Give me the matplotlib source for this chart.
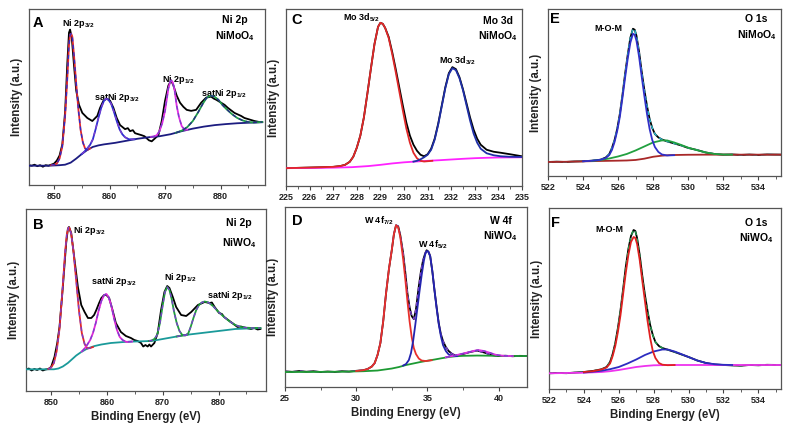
import matplotlib
matplotlib.use("Agg")
import matplotlib.pyplot as plt
from matplotlib.ticker import MultipleLocator

# Values (x = binding energy in eV, y = intensity in a.u.)

# ---- Panel A : Ni 2p, NiMoO4 ----
a_data = [(845.5, 19.5), (846.0, 19), (846.5, 20), (847.0, 18.5), (847.5, 19.5), (848.0, 18),
          (848.5, 19.5), (849.0, 19), (849.5, 20), (850.0, 21), (850.5, 24), (851.0, 29),
          (851.5, 40), (852.0, 72), (852.4, 120), (852.7, 150), (852.9, 153), (853.2, 145),
          (853.6, 118), (854.0, 93), (854.5, 79), (855.1, 71), (856.0, 66), (856.9, 63),
          (857.8, 68), (858.3, 76), (858.9, 83), (859.5, 85), (860.1, 83), (860.7, 76),
          (861.3, 66), (861.9, 59), (862.8, 55), (863.3, 56), (863.7, 53), (864.2, 54),
          (864.6, 51), (865.2, 50), (865.8, 49), (866.3, 48), (866.7, 46), (867.1, 44),
          (867.6, 43), (868.2, 46), (868.8, 49), (869.4, 63), (870.0, 83), (870.6, 98),
          (871.1, 103), (871.5, 98), (872.1, 88), (872.7, 81), (873.3, 77), (873.9, 74),
          (874.7, 73), (875.6, 74), (876.5, 81), (877.4, 86), (878.3, 87), (878.8, 85),
          (879.2, 84), (880.1, 81), (880.7, 79), (881.3, 76), (882.5, 71), (883.7, 68),
          (884.3, 66), (884.9, 65), (885.5, 64), (886.1, 63), (887.0, 62), (887.5, 62)]
a_bg = [(845.5, 19), (849, 19), (851, 19.5), (852, 20), (853, 22), (854, 26), (855, 30.5),
        (856, 34.5), (857, 37.5), (858, 39), (859, 40), (861, 41.5), (863, 43.5), (865, 45.5),
        (867, 47), (869, 48), (871, 50), (873, 53), (875, 55.5), (877, 57.5), (879, 59),
        (881, 60), (883, 60.8), (885, 61.3), (887.5, 61.8)]
a_p32 = [(849.5, 19.5), (850, 20), (850.5, 21), (851, 26), (851.5, 38), (852, 68), (852.4, 105),
         (852.7, 138), (852.9, 148), (853.1, 149), (853.3, 146), (853.6, 128), (854, 100),
         (854.4, 74), (854.8, 54), (855.2, 42), (855.6, 36), (856, 34.5), (856.5, 36)]
a_s32 = [(855, 30.5), (855.5, 33), (856, 36), (856.5, 39.5), (857, 45), (857.5, 55), (858, 66),
         (858.5, 76), (859, 83), (859.4, 85), (859.8, 84), (860.3, 80), (860.8, 72), (861.3, 63),
         (861.8, 55), (862.3, 50), (862.8, 47), (863.5, 45), (864.5, 45)]
a_p12 = [(867.5, 47.5), (868, 47.8), (868.5, 49), (869, 53), (869.5, 61), (870, 73), (870.3, 84),
         (870.6, 95), (870.9, 101), (871.1, 103), (871.4, 101), (871.7, 94), (872.1, 78),
         (872.5, 67), (873, 58), (873.5, 54.5), (874, 54.5)]
a_s12 = [(872, 51.5), (873, 53.5), (874, 57), (875, 63), (876, 72), (876.8, 80), (877.5, 86),
         (878.2, 88), (878.9, 87), (879.6, 84), (880.3, 79), (881, 75), (882, 70), (883, 66),
         (884, 63.5), (885, 62), (886, 61.5), (887.5, 62)]

# ---- Panel B : Ni 2p, NiWO4 ----
b_data = [(845.5, 21.5), (846, 22.5), (846.5, 20.5), (847, 22), (847.5, 21), (848, 22.5),
          (848.5, 20.5), (849, 21.5), (849.5, 22), (850, 24), (850.6, 34), (851.1, 48),
          (851.5, 64), (852.1, 104), (852.7, 148), (853.0, 162), (853.2, 164), (853.6, 158),
          (854.2, 131), (854.8, 104), (855.4, 86), (856, 79), (856.6, 73), (857.2, 73),
          (857.7, 76), (858.1, 81), (858.6, 88), (859, 93), (859.5, 96), (859.9, 96),
          (860.4, 93), (861, 81), (861.6, 68), (862.5, 59), (863.4, 55), (864.3, 53),
          (864.9, 51), (865.5, 50), (866.1, 48), (866.5, 44.5), (866.9, 46), (867.3, 44.5),
          (867.6, 46.5), (867.9, 44.5), (868.5, 48), (869.1, 58), (869.7, 81), (870.3, 99),
          (870.8, 105), (871.2, 103), (871.8, 94), (872.4, 84), (873.3, 76), (874.2, 75),
          (875.1, 79), (876.3, 86), (877.5, 89), (878.4, 88), (878.8, 88.5), (879.3, 84),
          (880.1, 78), (880.6, 77), (881, 74), (882.2, 69), (883.4, 64), (884, 64.5),
          (884.6, 63.5), (885.8, 62), (886.4, 63), (887, 61.5), (887.5, 62)]
b_bg = [(845.5, 21.7), (850.5, 21.7), (851.3, 22.5), (852.1, 24.5), (853, 28), (853.6, 31),
        (854.5, 35.5), (855.4, 39), (856.5, 42.5), (857.8, 45), (859, 46.5), (860.7, 48),
        (863, 49), (865, 49.5), (868, 50), (871, 53), (874, 56), (877, 58), (880, 60),
        (883, 62), (887.5, 63)]
b_p32 = [(849.5, 22), (850, 23.5), (850.5, 28), (851, 40), (851.5, 62), (852, 98), (852.5, 138),
         (852.8, 156), (853.1, 163.5), (853.3, 163), (853.6, 157), (854, 140), (854.5, 110),
         (855, 80), (855.5, 58), (856, 47), (856.5, 42.5), (857, 43), (857.5, 44)]
b_s32 = [(855.5, 39.5), (856, 42.5), (856.5, 46.5), (857, 51), (857.5, 58), (858, 68),
         (858.5, 80), (859, 90), (859.5, 96), (859.9, 97), (860.3, 94), (860.8, 85),
         (861.3, 72), (861.8, 61), (862.3, 54), (862.8, 51), (863.5, 49), (864.5, 49.5)]
b_p12 = [(867.5, 50), (868, 50.5), (868.5, 52), (869, 56), (869.5, 68), (870, 86), (870.4, 99),
         (870.8, 104), (871.2, 101), (871.6, 92), (872, 80), (872.5, 68), (873, 60),
         (873.5, 56), (874, 55.5), (874.5, 56.5)]
b_s12 = [(872.5, 54.5), (873.5, 55.5), (874.2, 56), (874.6, 58), (875, 64), (875.5, 73),
         (876, 81), (876.5, 86), (877, 88.5), (877.5, 89.5), (878.2, 88.5), (879, 85),
         (880, 79), (881, 74), (882, 69.5), (883, 66), (884, 64), (885, 63.3), (886, 63),
         (887.5, 63)]

# ---- Panel C : Mo 3d, NiMoO4 ----
c_data = [(225, 17.7), (225.5, 18), (226, 18.3), (226.5, 18.6), (227, 19), (227.3, 19.8),
          (227.5, 21), (227.7, 24), (227.85, 29), (228, 38), (228.15, 50), (228.3, 68),
          (228.45, 92), (228.6, 117), (228.75, 141), (228.9, 158), (229, 162), (229.1, 161),
          (229.2, 157), (229.35, 148), (229.5, 133), (229.65, 116), (229.8, 98), (229.95, 80),
          (230.1, 63), (230.25, 50), (230.4, 41), (230.55, 35), (230.7, 31), (230.85, 29.5),
          (231, 31.5), (231.15, 37), (231.3, 47), (231.45, 62), (231.6, 80), (231.75, 98),
          (231.9, 112), (232.05, 118), (232.2, 116), (232.35, 108), (232.5, 96), (232.65, 82),
          (232.8, 68), (232.95, 56), (233.1, 47), (233.25, 41), (233.5, 36), (233.8, 34),
          (234.1, 33), (234.5, 31.5), (235, 29.5)]
c_bg = [(225, 17.7), (226, 17.9), (227, 18.2), (227.8, 18.7), (228.5, 19.8), (229, 21),
        (229.5, 22.4), (230, 23.5), (230.5, 24.3), (231, 25), (231.5, 25.6), (232, 26.3),
        (232.5, 27), (233, 27.6), (233.5, 28), (234, 28.3), (235, 28.5)]
c_p52 = [(225, 17.7), (226, 18.3), (227, 19), (227.3, 19.8), (227.5, 21), (227.7, 24),
         (227.85, 29), (228, 38), (228.15, 50), (228.3, 68), (228.45, 92), (228.6, 117),
         (228.75, 141), (228.9, 158), (229, 162), (229.1, 161), (229.2, 157), (229.35, 147),
         (229.5, 131), (229.65, 113), (229.8, 94), (229.95, 75), (230.1, 57), (230.25, 43),
         (230.4, 33), (230.55, 27.5), (230.7, 25), (230.85, 24.3), (231.2, 25)]
c_p32 = [(230.4, 24.2), (230.55, 25), (230.7, 26.5), (230.85, 28.5), (231, 31), (231.15, 36),
         (231.3, 46), (231.45, 61), (231.6, 79), (231.75, 97), (231.9, 111), (232.05, 117),
         (232.2, 115), (232.35, 107), (232.5, 95), (232.65, 80), (232.8, 65), (232.95, 52),
         (233.1, 43), (233.25, 37), (233.5, 32.5), (233.8, 30.5), (234.1, 29.5), (234.5, 29),
         (235, 28.8)]

# ---- Panel D : W 4f, NiWO4 ----
d_data = [(25, 15.7), (25.5, 15.2), (26, 16), (26.5, 15.3), (27, 15.8), (27.5, 15), (28, 15.5),
          (28.5, 15.1), (29, 15.8), (29.5, 15.4), (30, 16.2), (30.5, 16.8), (30.8, 18),
          (31.1, 20.5), (31.3, 24), (31.5, 32), (31.7, 44), (31.9, 66), (32.1, 94), (32.3, 118),
          (32.5, 137), (32.65, 153), (32.8, 162), (32.95, 161), (33.1, 152), (33.3, 134),
          (33.45, 115), (33.6, 94), (33.75, 80), (33.9, 71), (34.05, 68), (34.2, 78),
          (34.4, 101), (34.55, 116), (34.7, 127), (34.85, 134), (34.95, 137), (35.1, 135),
          (35.2, 131), (35.35, 116), (35.5, 97), (35.65, 80), (35.8, 64), (35.95, 53),
          (36.1, 46), (36.3, 40), (36.5, 36), (36.75, 33), (37, 31.5), (37.5, 33), (38, 35),
          (38.5, 36.5), (39, 34.5), (39.5, 32), (40, 31), (40.5, 31.3), (41, 30.8),
          (41.5, 31.2), (42, 31)]
d_bg = [(25, 15), (27, 15.1), (29, 15.3), (30.5, 15.8), (31.5, 16.5), (32.5, 18.5), (33, 20),
        (33.5, 22), (34, 23.5), (34.5, 25), (35, 26.3), (35.5, 27.5), (36, 28.8), (36.5, 30),
        (37, 30.8), (37.5, 31.2), (38.5, 31.5), (40, 31.2), (42, 31)]
d_p72 = [(30, 16), (30.5, 16.8), (30.8, 18), (31.1, 20.5), (31.3, 24), (31.5, 32), (31.7, 44),
         (31.9, 66), (32.1, 94), (32.3, 118), (32.5, 137), (32.65, 153), (32.8, 162),
         (32.95, 160), (33.1, 150), (33.3, 128), (33.45, 108), (33.6, 86), (33.75, 66),
         (33.9, 50), (34.05, 39), (34.2, 33), (34.4, 28.5), (34.6, 26.5), (34.9, 26),
         (35.3, 26.8)]
d_p52 = [(33.3, 21.5), (33.5, 23), (33.7, 27), (33.85, 34), (34, 46), (34.15, 62), (34.3, 79),
         (34.45, 96), (34.6, 112), (34.75, 126), (34.85, 133), (34.95, 136), (35.05, 136),
         (35.2, 131), (35.35, 116), (35.5, 97), (35.65, 79), (35.8, 63), (35.95, 51),
         (36.1, 42), (36.3, 36), (36.5, 32.5), (36.8, 31), (37.1, 31)]
d_p5p = [(36.3, 29.8), (36.8, 31.2), (37.3, 32.8), (37.8, 34.5), (38.3, 36.3), (38.6, 37),
         (39, 36), (39.4, 34.2), (39.8, 32.3), (40.3, 31.3), (41, 31)]

# ---- Panel E : O 1s, NiMoO4 ----
e_data = [(522, 14), (522.5, 14.3), (523, 14), (523.5, 14.5), (524, 14.7), (524.5, 15.3),
          (525, 16.3), (525.3, 18.5), (525.5, 22), (525.65, 28), (525.8, 36), (525.95, 47),
          (526.1, 62), (526.25, 81), (526.4, 102), (526.55, 121), (526.7, 138), (526.85, 147),
          (526.95, 146), (527.05, 140), (527.2, 124), (527.35, 104), (527.5, 86), (527.65, 70),
          (527.8, 57), (527.95, 48), (528.1, 42), (528.3, 38.5), (528.5, 36.5), (528.8, 34.5),
          (529.2, 32.5), (529.6, 30.5), (530, 28), (530.5, 26), (531, 23.5), (531.5, 22),
          (532, 21.3), (532.5, 21.5), (533, 21), (533.5, 21.4), (534, 21), (534.5, 21.5),
          (535.3, 21.3)]
e_bg = [(522, 14), (523, 14.2), (524, 14.6), (525, 15), (526, 15.3), (526.5, 15.5), (527, 16),
        (527.5, 17.3), (528, 19.2), (528.5, 20.3), (529, 20.9), (530, 21.2), (531, 21.3),
        (535.3, 21.3)]
e_mom = [(524, 14.7), (524.5, 15.2), (525, 16.2), (525.3, 18), (525.5, 21), (525.65, 26),
         (525.8, 34), (525.95, 45), (526.1, 59), (526.25, 78), (526.4, 98), (526.55, 117),
         (526.7, 133), (526.85, 142), (526.95, 141), (527.05, 135), (527.2, 119), (527.35, 99),
         (527.5, 80), (527.65, 62), (527.8, 47), (527.95, 36), (528.1, 29), (528.3, 24),
         (528.5, 21.5), (528.8, 20.5), (529.2, 20.8)]
e_oh = [(524.5, 15), (525, 16), (525.5, 17.5), (526, 19.5), (526.5, 22), (527, 25.5),
        (527.5, 29.5), (528, 33.5), (528.5, 35.5), (528.8, 35.5), (529.2, 33.5), (529.6, 31),
        (530, 28.3), (530.5, 25.8), (531, 23.5), (531.5, 22), (532, 21.4), (532.5, 21.3)]

# ---- Panel F : O 1s, NiWO4 ----
f_data = [(522, 15.7), (522.5, 16), (523, 15.8), (523.5, 16.5), (524, 17), (524.5, 18),
          (525, 19.7), (525.3, 22), (525.5, 27), (525.65, 35), (525.8, 46), (525.95, 61),
          (526.1, 79), (526.25, 100), (526.4, 122), (526.55, 140), (526.7, 153), (526.85, 159),
          (526.95, 158), (527.05, 151), (527.2, 134), (527.35, 113), (527.5, 94), (527.65, 78),
          (527.8, 64), (527.95, 54), (528.1, 47), (528.3, 43), (528.5, 41), (528.8, 39.3),
          (529.2, 37), (529.6, 34.5), (530, 32), (530.5, 28.5), (531, 26), (531.5, 24.5),
          (532, 24), (532.5, 23.6), (533, 23.3), (533.5, 24), (534, 23.7), (534.5, 24.2),
          (535.3, 24)]
f_bg = [(522, 15.7), (523, 16), (524, 16.3), (525, 17), (525.5, 17.8), (526, 19), (526.5, 20.5),
        (527, 22), (527.5, 23), (528, 23.7), (529, 24), (535.3, 24)]
f_mom = [(524, 17), (524.5, 17.8), (525, 19.5), (525.3, 21.5), (525.5, 25.5), (525.65, 33),
         (525.8, 43), (525.95, 57), (526.1, 74), (526.25, 95), (526.4, 116), (526.55, 134),
         (526.7, 147), (526.85, 152), (526.95, 151), (527.05, 145), (527.2, 129), (527.35, 108),
         (527.5, 88), (527.65, 68), (527.8, 51), (527.95, 38), (528.1, 31), (528.3, 26),
         (528.5, 24.3), (528.8, 23.8), (529.2, 24)]
f_oh = [(524, 16.5), (524.5, 17.3), (525, 18.2), (525.5, 19.8), (526, 22), (526.5, 25.5),
        (527, 29.5), (527.5, 34), (528, 37.5), (528.5, 39.5), (528.8, 39.5), (529.2, 37.5),
        (529.6, 34.8), (530, 32), (530.5, 28.5), (531, 26), (531.5, 24.8), (532, 24.2),
        (532.5, 24)]

# Figure setup
plt.rcParams['font.family'] = ['Liberation Sans', 'DejaVu Sans']
plt.rcParams['font.weight'] = 'bold'
plt.rcParams['mathtext.fontset'] = 'custom'
plt.rcParams['mathtext.rm'] = 'Liberation Sans:bold'
plt.rcParams['mathtext.default'] = 'rm'

FIG_W, FIG_H = 790, 429
PURPLE = "#7b3fcf"


def add_axes_px(fig, x0, y0, x1, y1):
    """Add axes using pixel coordinates measured from the top-left corner."""
    return fig.add_axes([x0 / FIG_W, 1 - y1 / FIG_H, (x1 - x0) / FIG_W, (y1 - y0) / FIG_H])


def curve(ax, pts, color, lw=1.3, dash=None, z=2):
    xs, ys = zip(*pts)
    ax.plot(xs, ys, color=color, lw=lw, zorder=z)
    if dash:
        ax.plot(xs, ys, color=dash, lw=lw * 0.75, ls=(0, (3, 2.5)), zorder=z + 0.5)


def style(ax, xlim, ylim, major, minor, bottom_row):
    ax.set_xlim(*xlim)
    ax.set_ylim(*ylim)
    ax.set_yticks([])
    ax.xaxis.set_major_locator(MultipleLocator(major))
    ax.xaxis.set_minor_locator(MultipleLocator(minor))
    ax.tick_params(axis='x', which='major', direction='out', length=3, width=0.8,
                   labelsize=6.5, pad=2, color='#444')
    ax.tick_params(axis='x', which='minor', direction='out', length=1.8, width=0.6, color='#444')
    for lab in ax.get_xticklabels():
        lab.set_fontweight('bold')
        lab.set_color('#222222')
    for s in ax.spines.values():
        s.set_color('#555555')
        s.set_linewidth(0.9)
    ax.set_ylabel('Intensity (a.u.)', fontsize=8.3, fontweight='bold', labelpad=4, color='#222222')
    if bottom_row:
        ax.set_xlabel('Binding Energy (eV)', fontsize=8.3, fontweight='bold', labelpad=3,
                      color='#222222')


def header(ax, letter, lx, ly, core, sample, hx, hy1, hy2):
    ax.text(lx, ly, letter, fontsize=10.5, fontweight='bold', ha='left', va='center')
    ax.text(hx, hy1, core, fontsize=7.5, fontweight='bold', ha='center', va='center')
    ax.text(hx, hy2, sample, fontsize=7.5, fontweight='bold', ha='center', va='center')


def peak_label(ax, x, y, s):
    ax.text(x, y, s, fontsize=6.5, fontweight='bold', ha='center', va='center')


fig = plt.figure(figsize=(7.9, 4.29), dpi=100)

# A
ax = add_axes_px(fig, 29, 9, 265, 185)
curve(ax, a_data, 'black', z=2)
curve(ax, a_bg, '#1c1c80', z=3)
curve(ax, a_p32, '#e0282c', dash='#2d2dd0', z=4)
curve(ax, a_s32, '#2d2dd0', dash=PURPLE, z=4)
curve(ax, a_p12, '#e22ee2', dash=PURPLE, z=4)
curve(ax, a_s12, '#1e9e46', dash='#27278a', z=4)
style(ax, (845.5, 888), (0, 173.3), 10, 5, False)
header(ax, 'A', 846.1, 160, 'Ni 2p', r'NiMoO$_4$', 882.6, 162, 147)
peak_label(ax, 854.3, 159, r'Ni 2p$_{3/2}$')
peak_label(ax, 861.4, 86, r'satNi 2p$_{3/2}$')
peak_label(ax, 872.4, 104, r'Ni 2p$_{1/2}$')
peak_label(ax, 880.5, 90, r'satNi 2p$_{1/2}$')

# B
ax = add_axes_px(fig, 26, 209, 266, 391)
curve(ax, b_data, 'black', z=2)
curve(ax, b_bg, '#1a9a9a', z=3)
curve(ax, b_p32, '#e0282c', dash=PURPLE, z=4)
curve(ax, b_s32, '#e02ad8', dash=PURPLE, z=4)
curve(ax, b_p12, '#1e9e3a', dash=PURPLE, z=4)
curve(ax, b_s12, '#1e9e3a', dash=PURPLE, z=4)
style(ax, (845.5, 888.5), (0, 182), 10, 5, True)
header(ax, 'B', 846.7, 166, 'Ni 2p', r'NiWO$_4$', 883.7, 168, 148)
peak_label(ax, 856.9, 161, r'Ni 2p$_{3/2}$')
peak_label(ax, 861.2, 109, r'satNi 2p$_{3/2}$')
peak_label(ax, 873.2, 113, r'Ni 2p$_{1/2}$')
peak_label(ax, 882.0, 96, r'satNi 2p$_{1/2}$')

# C
ax = add_axes_px(fig, 286, 9, 522, 186)
curve(ax, c_data, 'black', z=2)
curve(ax, c_bg, '#ff22ff', z=3)
curve(ax, c_p52, '#e02828', z=4)
curve(ax, c_p32, '#1f2fa8', z=4)
style(ax, (225, 235), (0, 175.7), 1, 0.5, False)
header(ax, 'C', 225.24, 165, 'Mo 3d', r'NiMoO$_4$', 233.97, 164, 149)
peak_label(ax, 228.2, 167, r'Mo 3d$_{5/2}$')
peak_label(ax, 232.26, 124, r'Mo 3d$_{3/2}$')

# D
ax = add_axes_px(fig, 285, 207, 527, 387)
curve(ax, d_data, 'black', dash=PURPLE, z=2)
curve(ax, d_bg, '#1d9a33', z=3)
curve(ax, d_p72, '#e8302c', z=4)
curve(ax, d_p52, '#2424b0', z=4)
curve(ax, d_p5p, '#e030e0', dash=PURPLE, z=4)
style(ax, (25, 42), (0, 180.3), 5, 2.5, True)
header(ax, 'D', 25.47, 166, 'W 4f', r'NiWO$_4$', 40.15, 166, 151)
peak_label(ax, 31.6, 167, r'W 4f$_{7/2}$')
peak_label(ax, 35.37, 142, r'W 4f$_{5/2}$')

# E
ax = add_axes_px(fig, 548, 9, 781, 176)
curve(ax, e_data, 'black', dash='#28bcd0', z=2)
curve(ax, e_bg, '#a82828', z=3)
curve(ax, e_oh, '#22a040', z=4)
curve(ax, e_mom, '#3030c8', z=4)
style(ax, (522, 535.3), (0, 166.7), 2, 1, False)
header(ax, 'E', 522.13, 157, 'O 1s', r'NiMoO$_4$', 533.9, 157, 141)
peak_label(ax, 525.44, 147, 'M-O-M')

# F
ax = add_axes_px(fig, 549, 208, 781, 389)
curve(ax, f_data, 'black', dash='#22a050', z=2)
curve(ax, f_bg, '#ee33ee', z=3)
curve(ax, f_oh, '#2c2cc0', z=4)
curve(ax, f_mom, '#e02020', z=4)
style(ax, (522, 535.3), (0, 181), 2, 1, True)
header(ax, 'F', 522.13, 166, 'O 1s', r'NiWO$_4$', 533.9, 166, 151)
peak_label(ax, 525.44, 160, 'M-O-M')

fig.savefig('out.png', dpi=100)
